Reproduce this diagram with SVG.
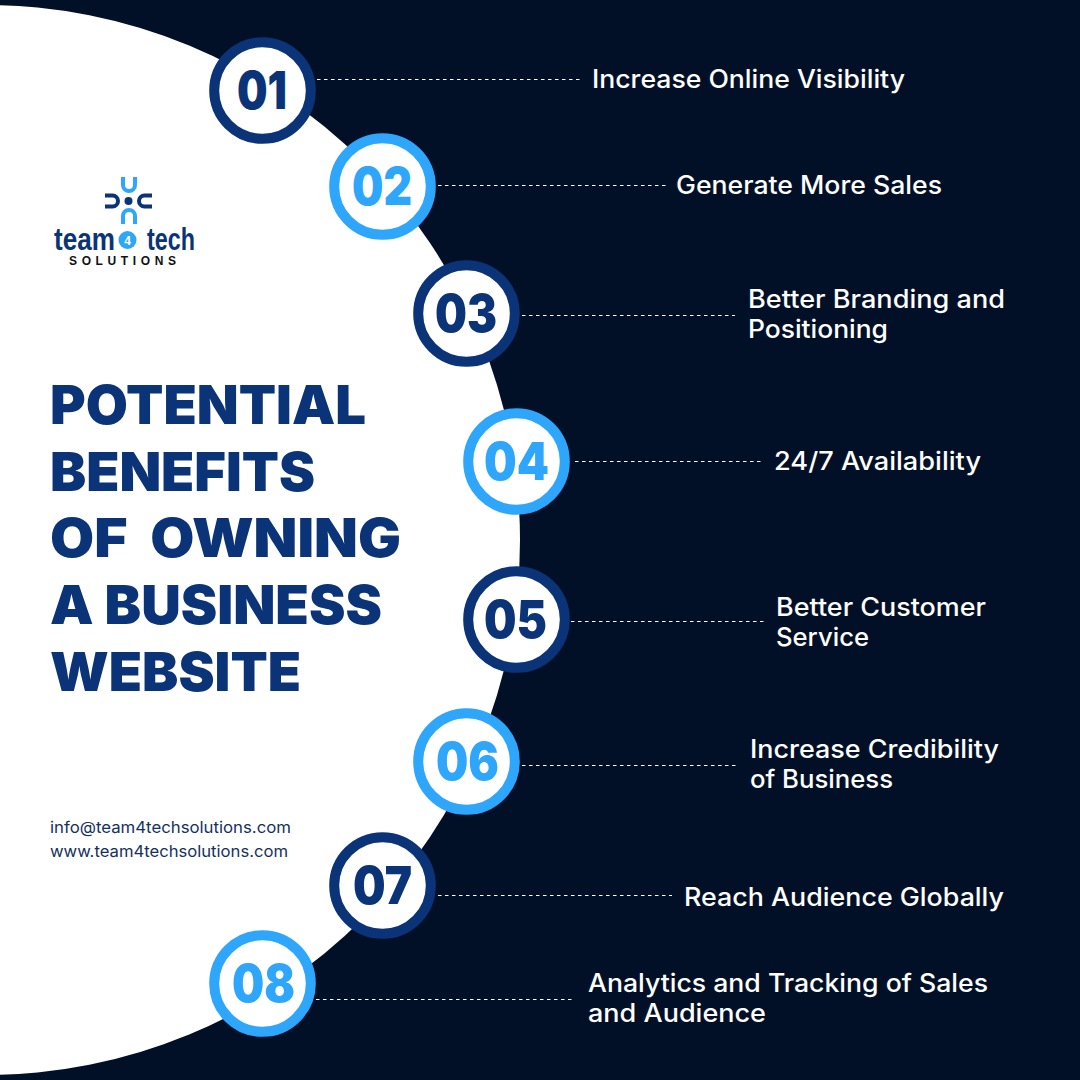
<svg xmlns="http://www.w3.org/2000/svg" width="1080" height="1080" viewBox="0 0 1080 1080">
<style>
.bg{fill:#011027}
.ring{fill:#fff;stroke-width:10}
.d{stroke:#0a3477}.l{stroke:#2ea6fb}
.num{font-family:Inter,"Liberation Sans",sans-serif;font-weight:900;font-size:52px}
.nd{fill:#0a3477}.nl{fill:#2ea6fb}
.lab{font-family:Inter,"Noto Sans",sans-serif;font-weight:500;font-size:25px;fill:#fff}
.tt{font-family:Inter,"Liberation Sans",sans-serif;font-weight:900;font-size:54px;fill:#0a3477}
.ct{font-family:Inter,"Noto Sans",sans-serif;font-weight:400;font-size:16px;fill:#14305f}
.dash{stroke:#fff;stroke-width:1;stroke-dasharray:3.5 3.5;fill:none}
.lg{font-family:"Liberation Sans",sans-serif;font-weight:700;fill:#0a3477}
</style>
<rect class="bg" width="1080" height="1080"/>
<circle cx="-15" cy="540" r="535" fill="#fff"/>
<g id="connectors">
<path class="dash" d="M317 79.500H581"/>
<path class="dash" d="M438 185.500H666"/>
<path class="dash" d="M522 315.500H735"/>
<path class="dash" d="M575 461.500H762"/>
<path class="dash" d="M571 621.500H765"/>
<path class="dash" d="M522 765.500H738"/>
<path class="dash" d="M438 895.500H672"/>
<path class="dash" d="M316 999.500H575"/>
</g>
<g id="logo">
<g fill="none" stroke-width="4">
<path stroke="#2ea6fb" d="M123 177V185A6 6 0 0 0 135 185V177"/>
<path stroke="#2ea6fb" d="M123 224V216A6 6 0 0 1 135 216V224"/>
<path stroke="#0a3477" d="M105 195.500H112.500A5.500 5.500 0 0 1 112.500 206.500H105"/>
<path stroke="#0a3477" d="M152 195.500H144.500A5.500 5.500 0 0 0 144.500 206.500H152"/>
</g>
<circle cx="128.500" cy="201" r="4" fill="#0a3477"/>
<text class="lg" font-size="31" transform="translate(54 250) scale(.843 1)">team</text>
<circle cx="127.500" cy="240" r="9" fill="#2ea6fb"/>
<text x="127.500" y="244.500" font-family="Liberation Sans,sans-serif" font-weight="700" font-size="12" fill="#fff" text-anchor="middle">4</text>
<text class="lg" font-size="31" transform="translate(147 250) scale(.753 1)">tech</text>
<text x="69" y="265" font-family="Liberation Sans,sans-serif" font-weight="700" font-size="12" fill="#111" textLength="107">SOLUTIONS</text>
</g>
<g id="title">
<text class="tt" x="50" y="424" textLength="316" lengthAdjust="spacingAndGlyphs">POTENTIAL</text>
<text class="tt" x="50" y="491" textLength="265" lengthAdjust="spacingAndGlyphs">BENEFITS</text>
<text class="tt" x="50" y="557" textLength="351" lengthAdjust="spacingAndGlyphs" xml:space="preserve">OF  OWNING</text>
<text class="tt" x="50" y="624" textLength="332" lengthAdjust="spacingAndGlyphs">A BUSINESS</text>
<text class="tt" x="50" y="691" textLength="251" lengthAdjust="spacingAndGlyphs">WEBSITE</text>
</g>
<g id="contact">
<text class="ct" x="50" y="832.500" textLength="241" lengthAdjust="spacingAndGlyphs">info@team4techsolutions.com</text>
<text class="ct" x="50" y="857" textLength="238" lengthAdjust="spacingAndGlyphs">www.team4techsolutions.com</text>
</g>
<g id="n1"><circle class="ring d" cx="262.500" cy="90.500" r="48.300"/><text class="num nd" x="237" y="108.500" textLength="50" lengthAdjust="spacingAndGlyphs">01</text><text class="lab" x="592" y="88" textLength="313" lengthAdjust="spacingAndGlyphs">Increase Online Visibility</text></g>
<g id="n2"><circle class="ring l" cx="382.500" cy="186.500" r="48.300"/><text class="num nl" x="352" y="204.500" textLength="60" lengthAdjust="spacingAndGlyphs">02</text><text class="lab" x="676" y="194" textLength="266" lengthAdjust="spacingAndGlyphs">Generate More Sales</text></g>
<g id="n3"><circle class="ring d" cx="466.500" cy="313.500" r="48.300"/><text class="num nd" x="435" y="331.500" textLength="62" lengthAdjust="spacingAndGlyphs">03</text><text class="lab" x="748" y="308" textLength="257" lengthAdjust="spacingAndGlyphs">Better Branding and</text><text class="lab" x="748" y="338" textLength="140" lengthAdjust="spacingAndGlyphs">Positioning</text></g>
<g id="n4"><circle class="ring l" cx="516.500" cy="461.500" r="48.300"/><text class="num nl" x="484" y="479.500" textLength="65" lengthAdjust="spacingAndGlyphs">04</text><text class="lab" x="774" y="470" textLength="207" lengthAdjust="spacingAndGlyphs">24/7 Availability</text></g>
<g id="n5"><circle class="ring d" cx="516.500" cy="619.500" r="48.300"/><text class="num nd" x="484" y="637.500" textLength="63" lengthAdjust="spacingAndGlyphs">05</text><text class="lab" x="776" y="616" textLength="210" lengthAdjust="spacingAndGlyphs">Better Customer</text><text class="lab" x="776" y="646" textLength="93" lengthAdjust="spacingAndGlyphs">Service</text></g>
<g id="n6"><circle class="ring l" cx="466.500" cy="761.500" r="48.300"/><text class="num nl" x="436" y="779.500" textLength="63" lengthAdjust="spacingAndGlyphs">06</text><text class="lab" x="750" y="758" textLength="249" lengthAdjust="spacingAndGlyphs">Increase Credibility</text><text class="lab" x="750" y="788" textLength="143" lengthAdjust="spacingAndGlyphs">of Business</text></g>
<g id="n7"><circle class="ring d" cx="382.500" cy="885.500" r="48.300"/><text class="num nd" x="353" y="903.500" textLength="59" lengthAdjust="spacingAndGlyphs">07</text><text class="lab" x="684" y="906" textLength="320" lengthAdjust="spacingAndGlyphs">Reach Audience Globally</text></g>
<g id="n8"><circle class="ring l" cx="262.500" cy="983.500" r="48.300"/><text class="num nl" x="232" y="1001.500" textLength="63" lengthAdjust="spacingAndGlyphs">08</text><text class="lab" x="588" y="992" textLength="400" lengthAdjust="spacingAndGlyphs">Analytics and Tracking of Sales</text><text class="lab" x="588" y="1022" textLength="178" lengthAdjust="spacingAndGlyphs">and Audience</text></g>
</svg>
